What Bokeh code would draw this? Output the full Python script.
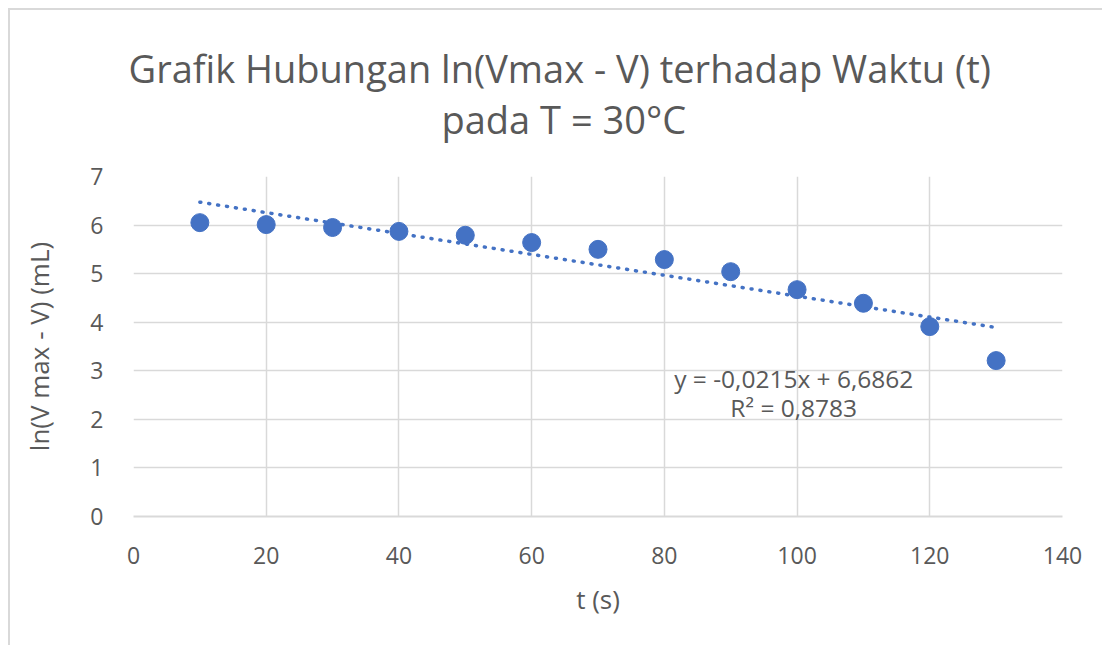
from bokeh.plotting import figure
from bokeh.models import Range1d, FixedTicker, Label, Title
from bokeh.embed import file_html
from bokeh.resources import INLINE

t_values = [10, 20, 30, 40, 50, 60, 70, 80, 90, 100, 110, 120, 130]
ln_values = [6.05, 6.01, 5.95, 5.87, 5.79, 5.64, 5.50, 5.29, 5.04, 4.67, 4.39, 3.91, 3.21]
slope = -0.0215
intercept = 6.6862
title_line1 = "Grafik Hubungan ln(Vmax - V) terhadap Waktu (t)"
title_line2 = "pada T = 30°C"
eq_text = "y = -0,0215x + 6,6862"
r2_text = "R² = 0,8783"
x_ticks = [0, 20, 40, 60, 80, 100, 120, 140]
y_ticks = [0, 1, 2, 3, 4, 5, 6, 7]

FONT = "Open Sans"
GREY = "#595959"
BLUE = "#4472C4"
GRID = "#d9d9d9"

p = figure(width=1094, height=637, output_backend="svg", toolbar_location=None,
           x_range=Range1d(0, 140), y_range=Range1d(0, 7),
           min_border_left=123, min_border_right=42, min_border_top=166, min_border_bottom=131)
p.margin = (8, 0, 0, 8)
p.styles = {"border-top": "2px solid #d9d9d9", "border-left": "2px solid #d9d9d9"}
p.outline_line_color = None
p.background_fill_color = "white"
p.border_fill_color = "white"

# title: spacer nearest the frame, then line 2, then line 1
spacer = Title(text=" ", text_font_size="1px", standoff=30)
t2 = Title(text=title_line2, align="left", offset=308, text_font=FONT, text_font_size="38px",
           text_color=GREY, text_font_style="normal", standoff=-3)
t1 = Title(text=title_line1, align="left", offset=-5, text_font=FONT, text_font_size="38px",
           text_color=GREY, text_font_style="normal", standoff=-3)
p.add_layout(spacer, "above")
p.add_layout(t2, "above")
p.add_layout(t1, "above")

for ax in (p.xaxis[0], p.yaxis[0]):
    ax.major_label_text_font = FONT
    ax.major_label_text_font_size = "23px"
    ax.major_label_text_color = GREY
    ax.axis_label_text_font = FONT
    ax.axis_label_text_font_size = "26px"
    ax.axis_label_text_color = GREY
    ax.axis_label_text_font_style = "normal"
    ax.major_tick_line_color = None
    ax.minor_tick_line_color = None

p.xaxis.ticker = FixedTicker(ticks=x_ticks)
p.yaxis.ticker = FixedTicker(ticks=y_ticks)
p.xaxis.axis_label = "t (s)"
p.yaxis.axis_label = "ln(V max - V) (mL)"
p.xaxis.axis_line_color = GRID
p.xaxis.axis_line_width = 2
p.yaxis.axis_line_color = None
p.xaxis.major_label_standoff = 24
p.yaxis.major_label_standoff = 24
p.xaxis.axis_label_standoff = 14
p.yaxis.axis_label_standoff = 30

p.xgrid.ticker = FixedTicker(ticks=x_ticks)
p.ygrid.ticker = FixedTicker(ticks=y_ticks)
p.grid.grid_line_color = GRID
p.grid.grid_line_width = 1.5

x0, x1 = t_values[0], t_values[-1]
p.line([x0, x1], [slope * x0 + intercept, slope * x1 + intercept],
       line_color=BLUE, line_width=3.5, line_dash="1 8", line_cap="round")
p.scatter(t_values, ln_values, size=18, fill_color=BLUE, line_color=BLUE)

p.add_layout(Label(x=99.5, y=2.84, text=eq_text, text_align="center", text_baseline="middle",
                   text_font=FONT, text_font_size="24.5px", text_color=GREY))
p.add_layout(Label(x=99.5, y=2.24, text=r2_text, text_align="center", text_baseline="middle",
                   text_font=FONT, text_font_size="24.5px", text_color=GREY))

open("out.html", "w").write(file_html(p, INLINE))
